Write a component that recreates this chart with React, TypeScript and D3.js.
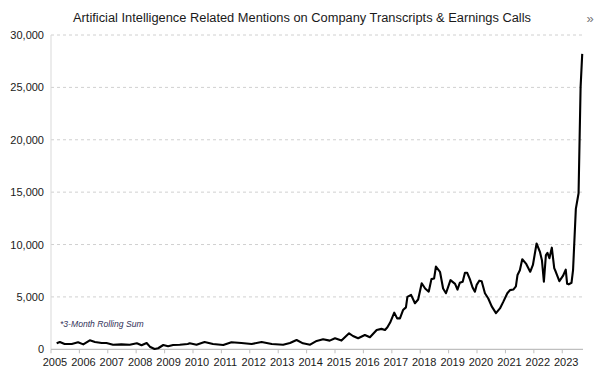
import React from "react";
import * as d3 from "d3";

const TITLE = "Artificial Intelligence Related Mentions on Company Transcripts & Earnings Calls";
const NOTE = "*3-Month Rolling Sum";

const dates: string[] = [
  "2005-03-15","2005-04-25","2005-06-25","2005-09-25","2005-12-15","2006-02-20","2006-05-15","2006-07-20","2006-10-15","2006-12-15",
  "2007-03-10","2007-06-25","2007-10-10","2008-01-10","2008-03-10","2008-05-15","2008-06-25","2008-08-25","2008-10-10","2008-12-15",
  "2009-02-15","2009-04-20","2009-07-15","2009-10-25","2009-11-20","2010-02-15","2010-05-30","2010-09-15","2011-01-25","2011-05-10",
  "2011-09-15","2012-01-25","2012-06-01","2012-10-10","2013-03-05","2013-06-01","2013-08-25","2013-11-15","2014-02-15","2014-05-10",
  "2014-08-01","2014-10-25","2015-01-01","2015-03-25","2015-07-01","2015-08-20","2015-10-25","2016-01-20","2016-03-25","2016-06-20",
  "2016-08-20","2016-10-05","2016-11-05","2016-12-10","2017-02-01","2017-03-10","2017-04-15","2017-05-25","2017-07-01","2017-07-20",
  "2017-09-05","2017-10-25","2017-12-05","2018-01-20","2018-03-05","2018-04-20","2018-05-25","2018-06-28","2018-07-22","2018-09-12",
  "2018-10-22","2018-11-28","2019-01-25","2019-03-25","2019-04-25","2019-05-25","2019-07-01","2019-07-30","2019-08-28","2019-10-01",
  "2019-11-05","2019-12-05","2019-12-28","2020-01-30","2020-03-01","2020-04-12","2020-05-25","2020-07-08","2020-09-01","2020-10-22",
  "2020-12-05","2021-01-25","2021-02-28","2021-04-12","2021-05-15","2021-06-05","2021-07-05","2021-08-05","2021-09-25","2021-11-15",
  "2021-12-20","2022-02-05","2022-03-20","2022-04-15","2022-05-10","2022-06-05","2022-06-25","2022-07-20","2022-08-20","2022-09-20",
  "2022-10-10","2022-11-25","2023-01-10","2023-02-15","2023-03-05","2023-03-25","2023-04-30","2023-05-20","2023-06-25","2023-07-30",
  "2023-08-25","2023-09-15"
];

const mentions: number[] = [
  570,700,510,510,670,470,860,700,600,600,
  440,470,440,570,380,600,250,30,100,410,
  300,410,440,510,570,440,700,510,410,670,
  600,510,700,510,440,600,890,570,440,800,
  960,830,1050,830,1530,1270,1050,1370,1150,1850,
  1950,1850,2100,2550,3500,2950,2950,3750,4000,5000,
  5200,4400,4750,6300,5800,5500,6700,6750,7900,7400,
  5800,5350,6600,6250,5700,6350,6450,7300,7300,6700,
  5900,5500,6150,6550,6500,5350,4850,4100,3450,3900,
  4550,5350,5650,5700,6000,7100,7550,8600,8150,7400,
  8050,10100,9300,8500,6450,9000,9200,8700,9700,7750,
  7400,6500,7000,7600,6250,6200,6350,7550,13400,14900,
  25000,28200
];

const yTicks: number[] = [0, 5000, 10000, 15000, 20000, 25000, 30000];
const xYears: number[] = [2005,2006,2007,2008,2009,2010,2011,2012,2013,2014,2015,2016,2017,2018,2019,2020,2021,2022,2023];

export default function App() {
  const W = 605, H = 381;
  const left = 51, right = 583, top = 35, bottom = 349.3;
  const parse = d3.timeParse("%Y-%m-%d");
  const data = dates.map((d, i) => ({ d: parse(d) as Date, v: mentions[i] }));
  const x = d3.scaleTime().domain([new Date(2005, 0, 1), new Date(2023, 8, 25)]).range([left, right]);
  const y = d3.scaleLinear().domain([0, 30000]).range([bottom, top]);
  const line = d3.line<{ d: Date; v: number }>().x(p => x(p.d)).y(p => y(p.v)).curve(d3.curveLinear);
  const fmt = d3.format(",");
  const font = "'Liberation Sans', Arial, sans-serif";

  return (
    <svg width={W} height={H} style={{ position: "absolute", left: 0, top: 0, background: "#fff" }} fontFamily={font}>
      <rect x={0} y={0} width={W} height={H} fill="#fff" />
      <text x={302} y={22} textAnchor="middle" fontSize={12.3} fill="#1a1a1a" textLength={458} lengthAdjust="spacingAndGlyphs">{TITLE}</text>
      <text x={590} y={23} textAnchor="middle" fontSize={13} fill="#777">»</text>
      {yTicks.filter(t => t > 0).map(t => (
        <line key={t} x1={left} x2={right} y1={y(t)} y2={y(t)} stroke="#d0d0d0" strokeWidth={1} strokeDasharray="3,3" />
      ))}
      <line x1={left} x2={left} y1={top} y2={bottom} stroke="#d9d9d9" strokeWidth={1} />
      <line x1={left} x2={right} y1={bottom} y2={bottom} stroke="#bfbfbf" strokeWidth={1.2} />
      {xYears.map(yr => {
        const px = x(new Date(yr, 0, 1));
        return (
          <g key={yr}>
            <line x1={px} x2={px} y1={bottom} y2={bottom + 4} stroke="#bfbfbf" strokeWidth={1} />
            <text x={px + 4} y={366} textAnchor="middle" fontSize={11} fill="#1a1a1a">{yr}</text>
          </g>
        );
      })}
      {yTicks.map(t => (
        <text key={t} x={44} y={y(t) + 4} textAnchor="end" fontSize={11} fill="#1a1a1a">{fmt(t)}</text>
      ))}
      <text x={60} y={327} fontSize={8.6} fontStyle="italic" fill="#33335a">{NOTE}</text>
      <path d={line(data) || ""} fill="none" stroke="#000" strokeWidth={2.1} strokeLinejoin="round" />
    </svg>
  );
}
